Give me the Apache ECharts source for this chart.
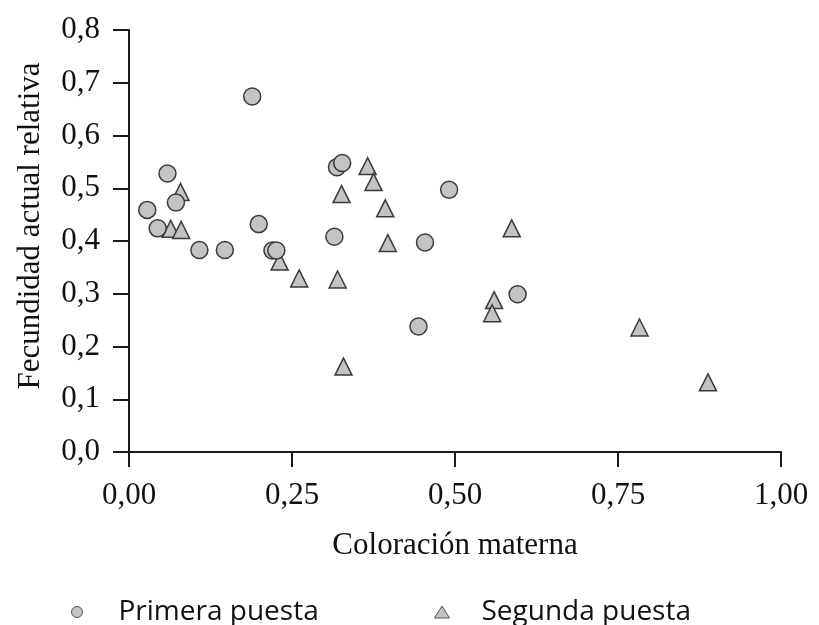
<!DOCTYPE html>
<html>
<head>
<meta charset="utf-8">
<script src="https://cdn.jsdelivr.net/npm/echarts@6/dist/echarts.min.js"></script>
<style>
html,body{margin:0;padding:0;background:#fff;}
#chart{width:819px;height:625px;}
</style>
</head>
<body>
<div id="chart"></div>
<script>
var primeraX = [0.189, 0.059, 0.072, 0.028, 0.044, 0.108, 0.147, 0.199, 0.220, 0.226, 0.319, 0.327, 0.315, 0.491, 0.454, 0.444, 0.596];
var primeraY = [0.674, 0.528, 0.473, 0.459, 0.424, 0.383, 0.383, 0.432, 0.382, 0.382, 0.540, 0.548, 0.408, 0.497, 0.397, 0.238, 0.299];
var segundaX = [0.079, 0.064, 0.080, 0.231, 0.261, 0.320, 0.329, 0.326, 0.366, 0.375, 0.393, 0.397, 0.587, 0.560, 0.557, 0.783, 0.888];
var segundaY = [0.493, 0.423, 0.421, 0.361, 0.329, 0.327, 0.162, 0.489, 0.542, 0.512, 0.462, 0.396, 0.424, 0.288, 0.263, 0.236, 0.132];
var xTickValues = [0, 0.25, 0.5, 0.75, 1];
var xTickLabels = ['0,00', '0,25', '0,50', '0,75', '1,00'];
var yTickValues = [0, 0.1, 0.2, 0.3, 0.4, 0.5, 0.6, 0.7, 0.8];
var yTickLabels = ['0,0', '0,1', '0,2', '0,3', '0,4', '0,5', '0,6', '0,7', '0,8'];
var seriesNames = ['Primera puesta', 'Segunda puesta'];

function zip(xs, ys) { return xs.map(function (x, i) { return [x, ys[i]]; }); }
function lookup(vals, labels) {
  return function (v) {
    for (var i = 0; i < vals.length; i++) { if (Math.abs(vals[i] - v) < 1e-6) return labels[i]; }
    return '';
  };
}

var serif = 'Liberation Serif';
var axisColor = '#1a1a1a';
var fill = '#c3c3c5';
var stroke = '#3a3a3a';

var chart = echarts.init(document.getElementById('chart'), null, { renderer: 'canvas' });
chart.setOption({
  animation: false,
  backgroundColor: '#ffffff',
  grid: { left: 129, right: 38, top: 30, bottom: 173, containLabel: false },
  xAxis: {
    type: 'value', min: 0, max: 1, interval: 0.25,
    name: 'Coloración materna', nameLocation: 'middle', nameGap: 78,
    nameTextStyle: { fontFamily: serif, fontSize: 31, color: '#111' },
    axisLine: { show: true, onZero: false, lineStyle: { color: axisColor, width: 2 } },
    axisTick: { show: true, inside: false, length: 15, lineStyle: { color: axisColor, width: 2 } },
    axisLabel: { margin: 28, fontFamily: serif, fontSize: 31, color: '#111', formatter: lookup(xTickValues, xTickLabels) },
    splitLine: { show: false }
  },
  yAxis: {
    type: 'value', min: 0, max: 0.8, interval: 0.1,
    name: 'Fecundidad actual relativa', nameLocation: 'middle', nameGap: 83, nameRotate: 90,
    nameTextStyle: { fontFamily: serif, fontSize: 31, color: '#111', padding: [0, 0, 0, 30] },
    axisLine: { show: true, onZero: false, lineStyle: { color: axisColor, width: 2 } },
    axisTick: { show: true, inside: false, length: 16, lineStyle: { color: axisColor, width: 2 } },
    axisLabel: { margin: 29, fontFamily: serif, fontSize: 31, color: '#111', formatter: lookup(yTickValues, yTickLabels) },
    splitLine: { show: false }
  },
  legend: [
    {
      data: [{ name: seriesNames[0], icon: 'circle' }],
      left: 71, top: 598, itemWidth: 11, itemHeight: 11, padding: 0,
      selectedMode: false,
      itemStyle: { color: fill, borderColor: '#555', borderWidth: 1 },
      textStyle: { fontFamily: 'Open Sans', fontSize: 28, color: '#111', padding: [0, 0, 0, 31] }
    },
    {
      data: [{ name: seriesNames[1], icon: 'triangle' }],
      left: 434, top: 598, itemWidth: 15, itemHeight: 12, padding: 0,
      selectedMode: false,
      itemStyle: { color: fill, borderColor: '#555', borderWidth: 1 },
      textStyle: { fontFamily: 'Open Sans', fontSize: 28, color: '#111', padding: [0, 0, 0, 27] }
    }
  ],
  series: [
    {
      name: seriesNames[1], type: 'scatter', symbol: 'triangle', symbolSize: 17, z: 2,
      itemStyle: { color: fill, borderColor: stroke, borderWidth: 1.5, opacity: 1 },
      data: zip(segundaX, segundaY)
    },
    {
      name: seriesNames[0], type: 'scatter', symbol: 'circle', symbolSize: 17, z: 3,
      itemStyle: { color: fill, borderColor: stroke, borderWidth: 1.5, opacity: 1 },
      data: zip(primeraX, primeraY)
    }
  ]
});
</script>
</body>
</html>
